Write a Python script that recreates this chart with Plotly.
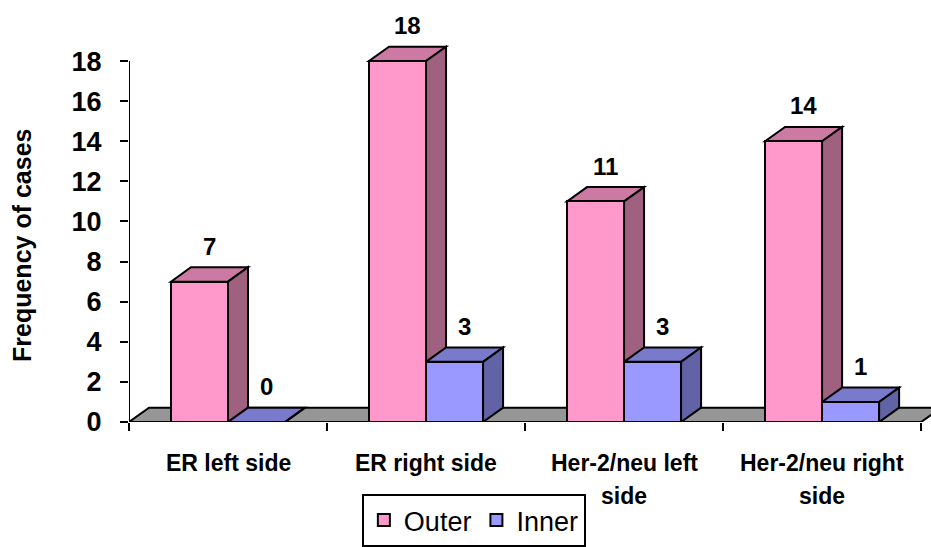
import plotly.graph_objects as go

# ---- data ----
categories = ["ER left side", "ER right side", "Her-2/neu left<br>side", "Her-2/neu right<br>side"]
outer = [7, 18, 11, 14]
inner = [0, 3, 3, 1]
y_ticks = [0, 2, 4, 6, 8, 10, 12, 14, 16, 18]

# ---- styling ----
FONT = "Liberation Sans, Arial, sans-serif"
BAR_W = 0.288          # bar width in category units
DEPTH_X = 0.101        # oblique depth offset (x units)
DEPTH_Y = 0.715        # oblique depth offset (y units)
OUTER_COLS = ("#FF99CC", "#CC7AA3", "#A0607F")   # front, top, side
INNER_COLS = ("#9999FF", "#7A7ACC", "#6262A6")
FLOOR_COL = "#969696"
EDGE = dict(color="black", width=2)

fig = go.Figure()
shapes = []


def poly(pts, fill):
    path = "M " + " L ".join(f"{x},{y}" for x, y in pts) + " Z"
    return dict(type="path", path=path, xref="x", yref="y", fillcolor=fill,
                line=EDGE, layer="below")


n = len(categories)
# floor
shapes.append(poly([(0, 0), (n, 0), (n + DEPTH_X, DEPTH_Y), (DEPTH_X, DEPTH_Y)], FLOOR_COL))

centers = [i + 0.5 for i in range(n)]
series = [("Outer", outer, -BAR_W / 2, OUTER_COLS), ("Inner", inner, BAR_W / 2, INNER_COLS)]

# top and side faces, outer series first so the inner bar overlaps it
for i, c in enumerate(centers):
    for name, vals, off, cols in series:
        v = vals[i]
        x0 = c + off - BAR_W / 2
        x1 = c + off + BAR_W / 2
        shapes.append(poly([(x0, v), (x1, v), (x1 + DEPTH_X, v + DEPTH_Y), (x0 + DEPTH_X, v + DEPTH_Y)], cols[1]))
        shapes.append(poly([(x1, 0), (x1 + DEPTH_X, DEPTH_Y), (x1 + DEPTH_X, v + DEPTH_Y), (x1, v)], cols[2]))

# front faces
for name, vals, off, cols in series:
    fig.add_trace(go.Bar(
        name=name, x=[c + off for c in centers], y=vals, width=[BAR_W] * n,
        marker=dict(color=cols[0], line=EDGE), hoverinfo="skip",
    ))

# y axis line
shapes.append(dict(type="line", xref="x", yref="y", x0=0, x1=0, y0=0, y1=max(y_ticks),
                   line=EDGE, layer="above"))

annotations = []
# value labels
for name, vals, off, cols in series:
    for c, v in zip(centers, vals):
        annotations.append(dict(x=c + off + DEPTH_X / 2, y=v + DEPTH_Y, xref="x", yref="y",
                                text=f"<b>{v}</b>", showarrow=False, yanchor="middle", yshift=21,
                                font=dict(family=FONT, size=24, color="black")))
# category labels, one annotation per text line
for c, lab in zip(centers, categories):
    for k, line in enumerate(lab.split("<br>")):
        annotations.append(dict(x=c, y=0, xref="x", yref="y", text=f"<b>{line}</b>", showarrow=False,
                                yanchor="middle", yshift=-41 - 33 * k, align="center",
                                font=dict(family=FONT, size=23, color="black")))
# y axis title
annotations.append(dict(x=0, y=0.462, xref="paper", yref="paper", text="<b>Frequency of cases</b>",
                        textangle=-90, showarrow=False, xanchor="center", yanchor="middle",
                        xshift=-107, font=dict(family=FONT, size=25, color="black")))

fig.update_layout(
    width=931, height=547,
    margin=dict(l=129, r=0, t=41, b=121),
    paper_bgcolor="white", plot_bgcolor="white",
    barmode="overlay", bargap=0,
    shapes=shapes, annotations=annotations,
    showlegend=True,
    legend=dict(orientation="h", x=0.43, y=-0.19, xref="paper", yref="paper",
                xanchor="center", yanchor="top", bordercolor="black", borderwidth=2,
                bgcolor="white", font=dict(family=FONT, size=27, color="black"),
                itemwidth=30, tracegroupgap=0),
    xaxis=dict(range=[0, n + 0.05], tickvals=list(range(n + 1)), ticktext=[""] * (n + 1),
               ticks="outside", ticklen=8, tickwidth=2, tickcolor="black",
               showline=False, showgrid=False, zeroline=False, fixedrange=True),
    yaxis=dict(range=[0, 19], tickvals=y_ticks, ticks="outside", ticklen=8, tickwidth=2,
               tickcolor="black", showline=False, showgrid=False, zeroline=False,
               ticklabelstandoff=13,
               tickfont=dict(family=FONT, size=27, color="black", weight="bold")),
)

fig.write_html("out.html")
